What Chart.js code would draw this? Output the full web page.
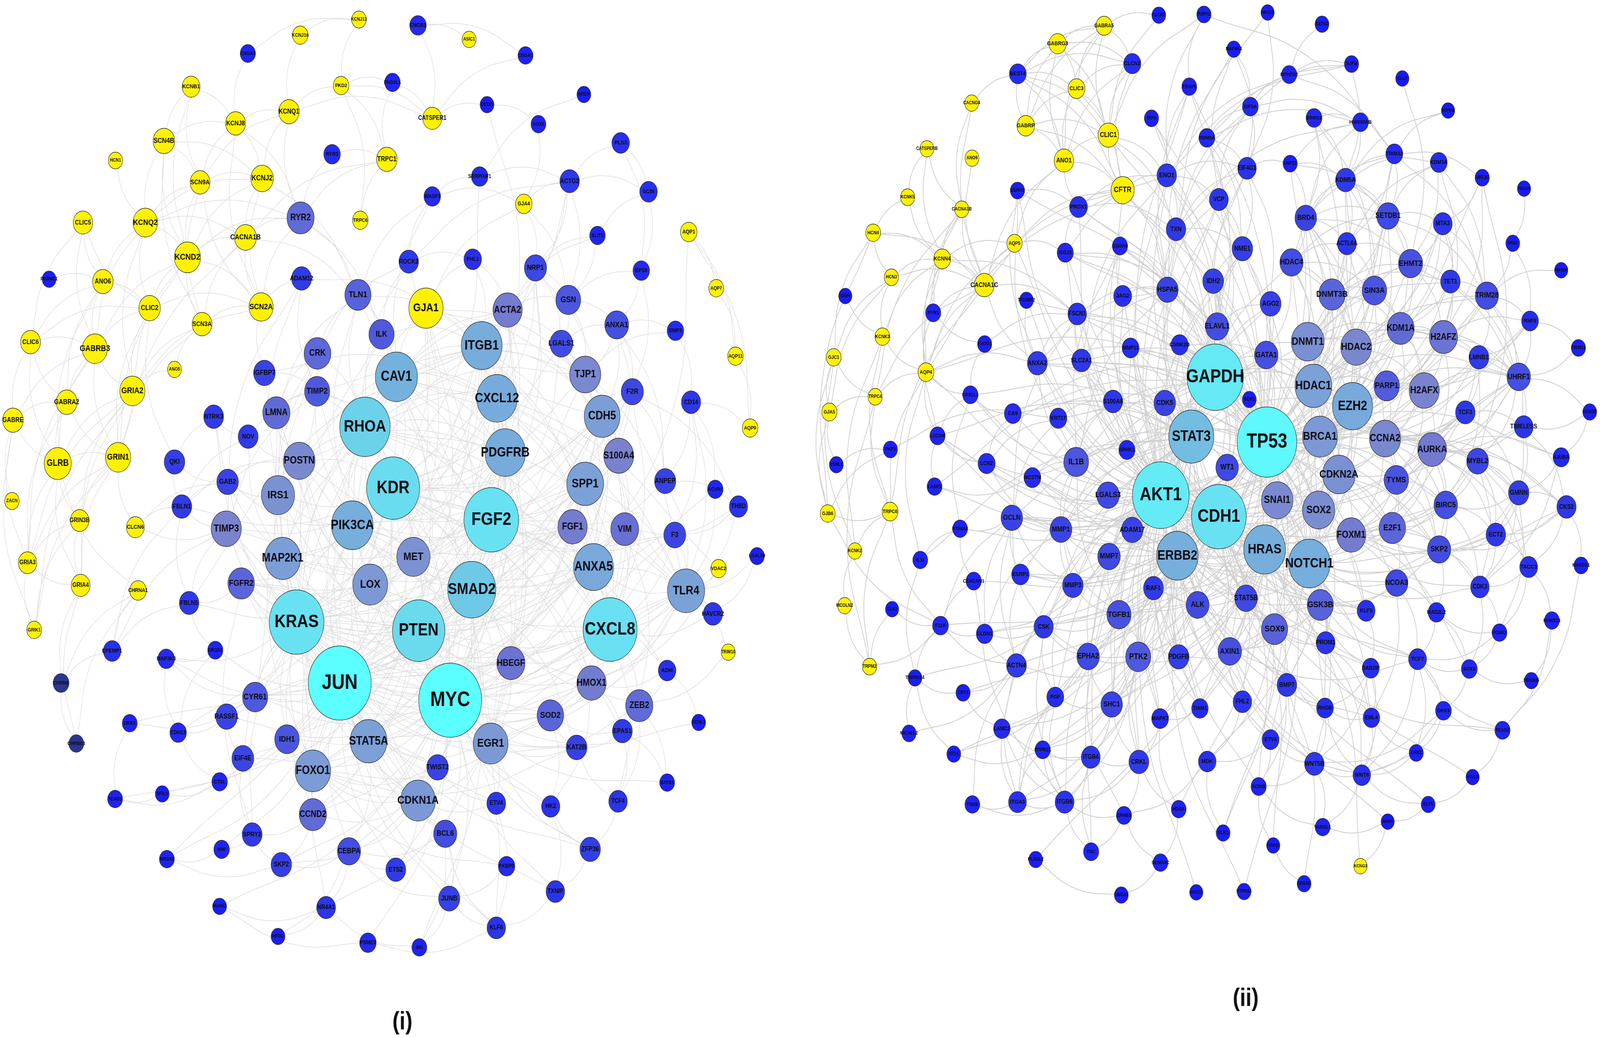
<!DOCTYPE html>
<html>
<head>
<meta charset="utf-8">
<title>networks</title>
<style>
  html, body { margin: 0; padding: 0; background: #fff; overflow: hidden; }
  /* the drawing is 4823 wide, the window may be capped narrower: always fill it */
  canvas { display: block; width: 100vw !important; height: 100vh !important; }
</style>
<script src="https://cdn.jsdelivr.net/npm/chart.js@4/dist/chart.umd.min.js"></script>
</head>
<body>
<canvas id="net" width="4823" height="2658"></canvas>
<script>
// rows are gene, x, y, node size
const channelsLeft = [
["KCNJ13",1082,50,44],["KCNJ16",905,90,47],["KCNB1",576,222,54],["PKD2",1028,219,47],["KCNQ1",871,286,62],
["KCNJ8",710,316,60],["SCN4B",494,361,65],["HCN1",348,411,43],["TRPC1",1166,408,62],["SCN9A",603,467,60],
["KCNJ2",790,457,68],["CLIC5",250,570,59],["KCNQ2",438,570,74],["TRPC6",1086,564,47],["KCND2",565,659,79],
["CACNA1B",740,608,66],["ANO6",310,721,62],["CLIC2",451,789,65],["SCN2A",787,786,73],["SCN3A",609,830,60],
["CLIC6",92,876,60],["GABRB3",286,893,76],["ANO5",526,946,42],["GRIA2",399,1001,76],["GABRA2",201,1030,63],
["GABRE",39,1076,62],["GLRB",174,1187,82],["GRIN1",356,1171,76],["ZACN",36,1283,44],["GRIN3B",240,1333,56],
["CLCN6",408,1350,54],["GRIA3",83,1441,56],["GRIA4",243,1499,57],["CHRNA1",416,1512,50],["GRIK1",103,1613,45],
["ASIC1",1414,101,42],["CATSPER1",1303,303,57],["GJA4",1579,522,50],["AQP1",2076,594,50],["AQP7",2159,738,45],
["GJA1",1284,789,103],["AQP11",2217,912,47],["AQP9",2261,1096,47],["VDAC2",2166,1456,47],["TRIM10",2195,1670,42]
];
const darkLeft = [["CHRNE",184,1749,48],["CHRNB3",230,1904,45]];
const othersLeft = [
["CNGA3",747,137,46],["PKD2L1",1183,211,47],["RYR3",1001,395,50],["RYR2",906,558,82],["PGRMC1",148,715,42],
["ADAM12",909,713,60],["TLN1",1079,755,79],["ILK",1150,856,76],["CRK",957,905,81],["CAV1",1195,965,127],
["IGFBP7",797,955,65],["TIMP2",956,1002,76],["LMNA",833,1057,82],["RHOA",1100,1093,152],["NTRK3",644,1067,60],
["NOV",748,1118,60],["POSTN",902,1180,95],["KDR",1185,1250,160],["QKI",526,1183,62],["GAB2",686,1234,65],
["IRS1",838,1268,100],["FBLN1",548,1297,60],["PIK3CA",1062,1345,125],["MAP2K1",852,1430,108],["TIMP3",682,1354,91],
["FGFR2",727,1494,80],["LOX",1116,1497,105],["KRAS",894,1593,165],["JUN",1024,1749,190],["CYR61",769,1785,76],
["RASSF1",683,1835,65],["EIF2S1",649,1665,46],["FBLN5",570,1544,59],["EFEMP1",338,1667,53],["MAP3K3",501,1687,50],
["DKK3",391,1852,45],["CDH13",537,1876,50],["IDH1",865,1893,74],["EIF4E",732,1942,66],["STAT5A",1111,1898,111],
["FOXO1",943,1974,107],["CTSL",662,2002,47],["NFIL3",489,2033,42],["TEAD1",347,2046,45],["CCND2",943,2086,82],
["SPRY2",760,2137,60],["NMI",668,2175,47],["CEBPA",1052,2180,70],["NR1H3",503,2200,45],["SKP2",848,2214,62],
["ETS2",1193,2227,60],["NUAK1",662,2321,42],["NR4A1",983,2324,57],["HPGD",838,2398,42],["PSME3",1109,2414,50],
["CNGB1",1260,65,50],["CNGA1",1584,142,45],["CD151",1468,268,42],["NREP",1760,242,42],["SOX5",1623,318,45],
["PLS3",1871,366,53],["SERPINF1",1446,452,50],["ACTG2",1717,464,59],["SCIN",1955,491,53],["WASF3",1303,503,50],
["SLIT3",1801,603,47],["ROCK2",1232,670,59],["FHL1",1425,664,53],["NRP1",1614,686,67],["EPS8",1933,693,50],
["GSN",1713,768,75],["ACTA2",1530,794,88],["ANXA1",1859,832,72],["EMP3",2036,847,50],["LGALS1",1692,880,69],
["ITGB1",1452,885,123],["TJP1",1764,959,94],["F2R",1906,1003,67],["CD14",2083,1030,58],["CXCL12",1498,1020,122],
["CDH5",1815,1066,108],["PDGFRB",1523,1159,122],["S100A4",1865,1167,90],["ANPEP",2005,1232,64],["SPP1",1764,1239,111],
["ACVR1",2156,1253,47],["THBD",2226,1297,55],["FGF2",1481,1331,165],["MET",1246,1426,100],["FGF1",1726,1349,88],
["VIM",1883,1355,84],["F3",2034,1370,66],["ANXA5",1789,1452,120],["LGALS9",2282,1424,44],["SMAD2",1422,1510,145],
["TLR4",2068,1513,112],["HAVCR2",2149,1572,58],["PTEN",1262,1615,158],["CXCL8",1839,1612,163],["HBEGF",1540,1698,85],
["ADM",2011,1717,53],["HMOX1",1783,1749,88],["MYC",1357,1793,190],["ZEB2",1927,1807,82],["SOD2",1659,1832,80],
["UCHL3",2106,1850,42],["EPAS1",1876,1872,60],["EGR1",1479,1904,105],["KAT2B",1738,1914,63],["TWIST2",1319,1965,65],
["SATB1",2011,2004,45],["CDKN1A",1260,2050,105],["ETV4",1496,2057,57],["HK2",1660,2065,55],["TCF4",1863,2052,56],
["BCL6",1342,2135,70],["ZFP36",1779,2175,62],["FKBP5",1527,2218,50],["TXNIP",1674,2283,56],["JUNB",1354,2301,64],
["KLF6",1496,2376,56],["SKI",1264,2426,45]
];
const channelsRight = [
["GABRA5",3328,66,49],["GABRG3",3188,112,52],["CLIC3",3245,227,51],["CACNG4",2929,264,42],["GABRP",3092,322,53],
["CLIC1",3341,346,62],["CATSPERB",2794,381,42],["ANO9",2930,405,42],["ANO1",3207,411,59],["CFTR",3384,487,70],
["KCNK5",2736,505,43],["CACNA1B",2899,536,43],["HCN4",2632,596,45],["AQP5",3058,623,46],["KCNN4",2840,663,51],
["HCN3",2687,710,43],["CACNA1C",2967,730,60],["KCNK3",2660,862,45],["GJC1",2513,915,45],["AQP4",2791,953,48],
["TRPC4",2638,1016,43],["GJA5",2500,1055,46],["GJB6",2495,1315,45],["TRPC6",2683,1310,48],["KCNK2",2577,1411,42],
["MCOLN2",2546,1551,42],["TRPM2",2621,1707,43],["KCNG3",4101,2218,40]
];
const othersRight = [
["CLCN7",3493,39,42],["P2RY2",3629,37,43],["CLCN2",3413,163,52],["BEST4",3068,189,51],["TRAP1",3585,222,45],
["IRF6",3471,303,43],["ENO1",3517,449,59],["S100A2",3067,488,43],["PRDX1",3251,530,54],["TXN",3545,587,59],
["S100A9",3376,630,46],["ISG15",3211,647,49],["IGSF6",2548,758,40],["HSPA5",3519,742,65],["TP53BP2",3094,769,42],
["JAG2",3384,758,54],["RYR1",2813,801,46],["FSCN1",3247,804,56],["FHOD1",2968,881,43],["MMP11",3408,891,51],
["CSNK2B",3556,883,52],["ANXA2",3127,930,60],["SLC2A1",3260,923,58],["CX3CL1",2925,1011,46],["S100A8",3355,1028,58],
["CDK5",3511,1032,65],["CA9",3053,1059,51],["KRT17",3190,1071,52],["L1CAM",2826,1116,46],["STAT3",3591,1118,136],
["PKP3",2684,1151,43],["SPHK1",3397,1152,49],["LCN2",2974,1187,52],["IL1B",3244,1183,75],["VSNL1",2521,1190,42],
["NCSTN",3112,1223,51],["LASP1",2817,1246,45],["AKT1",3499,1268,171],["LGALS3",3340,1268,68],["GAPDH",3663,966,170],
["ABCC2",3821,32,40],["EEF1D",3985,62,42],["MAP4K4",3719,126,42],["TUFM",4074,164,43],["MTHFD2",3886,191,46],
["ELL3",4227,201,40],["EIF5A",3769,273,48],["REPIN1",4365,283,40],["BRMS1",3961,302,48],["HNRNPAB",4101,313,48],
["RBM8A",3638,353,48],["TRIM33",4203,394,51],["KDM3A",4337,416,51],["USP22",3889,419,43],["EIF4G1",3759,431,56],
["UBE3C",4468,455,43],["PEG10",4594,483,40],["KDM5A",4056,461,60],["VCP",3674,511,57],["BRD4",3936,558,65],
["SETDB1",4184,553,68],["MTA3",4349,573,57],["ACTL6A",4060,624,57],["MSI2",4560,623,42],["NME1",3745,637,62],
["HDAC4",3893,672,70],["EHMT2",4252,675,73],["HMGB3",4706,692,40],["IDH2",3657,720,63],["TET1",4372,721,59],
["DNMT3B",4015,754,80],["SIN3A",4143,744,74],["TRIM28",4482,757,70],["AGO2",3830,778,63],["RNF8",4612,822,51],
["ELAVL1",3669,836,70],["KDM1A",4222,841,82],["H2AFZ",4351,863,85],["DNMT1",3942,875,99],["HDAC2",4088,889,93],
["GATA1",3817,909,71],["TRIM11",4758,891,43],["LMNB1",4458,915,60],["UHRF1",4578,965,71],["HDAC1",3959,988,111],
["PARP1",4180,988,77],["H2AFX",4293,1000,91],["BOP1",3766,1023,42],["EZH2",4077,1040,121],["TCF3",4417,1056,59],
["HOXD9",4792,1055,42],["TIMELESS",4593,1093,57],["TP53",3819,1132,180],["BRCA1",3979,1118,105],["CCNA2",4175,1123,94],
["AURKA",4317,1151,87],["AJUBA",4706,1171,49],["MYBL2",4454,1181,66],["WT1",3699,1197,68],["CDKN2A",4036,1215,99],
["TYMS",4209,1229,74],["GMNN",4578,1262,62],["SNAI1",3850,1281,95],["SOX2",3975,1306,97],["BIRC5",4358,1293,71],
["CKS2",4722,1298,58],["OCLN",3050,1326,65],["PTP4A3",2894,1354,45],["MMP1",3198,1356,66],["ADAM17",3413,1357,65],
["MMP7",3343,1425,68],["ERBB2",3549,1423,125],["IL11",2774,1434,45],["ESRP1",3076,1471,53],["CEACAM1",2935,1488,46],
["MMP3",3234,1499,62],["RAF1",3477,1506,60],["CLK2",2689,1560,40],["ALK",3610,1549,69],["TGFB1",3373,1574,73],
["F11R",2835,1602,48],["CSK",3146,1605,58],["CLDN1",2968,1623,50],["EPHA2",3280,1681,68],["PTK2",3431,1682,76],
["PDGFB",3553,1682,62],["ACTN4",3064,1704,60],["TMPRSS4",2758,1736,42],["CBY1",2903,1774,43],["PGF",3181,1785,51],
["SHC1",3351,1804,65],["TIAM1",3617,1814,50],["MAPK7",3497,1840,51],["LAMC2",3020,1866,50],["MICALL2",2740,1878,43],
["PTPRZ1",3143,1920,46],["ST14",2875,1931,42],["ITGB4",3288,1939,57],["CRKL",3433,1951,60],["MDK",3639,1950,53],
["TNXB",2931,2060,45],["ITGA3",3067,2054,54],["ITGB6",3209,2054,57],["EPHB3",3388,2088,46],["HDGF",3553,2072,45],
["TNC",3289,2181,46],["PLAGL2",3122,2201,42],["SEMA4C",3498,2209,45],["CNGA3",3380,2292,42],["MACC1",3606,2285,40],
["CDH1",3674,1323,165],["HRAS",3812,1407,126],["NOTCH1",3947,1443,125],["FOXM1",4073,1370,88],["E2F1",4197,1352,80],
["SKP2",4338,1407,70],["ECT2",4509,1369,59],["TACC3",4608,1452,54],["MAGED1",4766,1448,43],["CDK3",4461,1503,56],
["NCOA3",4210,1493,68],["STAT5B",3756,1532,68],["GSK3B",3980,1549,79],["KLF5",4118,1564,54],["MAD2L2",4330,1568,50],
["HOXB13",4678,1589,45],["SOX9",3842,1611,79],["FOXK2",4520,1620,45],["PROM1",3996,1646,57],["AXIN1",3707,1668,71],
["TCF7",4273,1688,54],["DAB2IP",4132,1711,51],["SOX3",4429,1713,48],["FBXO45",4616,1743,42],["BMP7",3879,1754,59],
["FHL2",3745,1797,56],["RHOB",3994,1813,51],["DKK3",4351,1820,48],["EML4",4134,1838,50],["TEAD2",4529,1870,46],
["ETV4",3830,1894,51],["LHX2",4269,1928,43],["WNT5B",3962,1956,59],["WNT6",4105,1985,53],["VGLL4",4439,1990,40],
["SCRIB",3794,2014,46],["ELF5",4305,2060,42],["NREP",4183,2104,40],["VANGL1",3987,2118,45],["ELK1",3687,2133,42],
["FOXQ1",3838,2165,40],["GREM1",3931,2263,42],["PTPN14",3750,2283,42]
];
// first word of a line is linked to all the others on the line
const edgesLeft = [
"KCNJ13 CNGA3 KCNJ16 PKD2","KCNJ16 KCNQ1","CNGA3 KCNJ8","KCNB1 KCNJ8 SCN9A SCN4B KCND2","KCNQ1 KCNJ8 PKD2 KCNJ2 RYR2 SCN9A",
"KCNJ8 SCN4B SCN9A KCNJ2 RYR2 SCN2A","SCN4B SCN9A KCNQ2 KCND2 KCNJ2 SCN3A","HCN1 KCNQ2","TRPC1 PKD2 RYR3 PKD2L1 TRPC6 CACNA1B RYR2",
"PKD2 PKD2L1 TRPC6 CATSPER1","SCN9A KCNQ2 KCND2 KCNJ2 SCN2A SCN3A","KCNJ2 KCND2 KCNQ2 CACNA1B TLN1 SCN2A","RYR2 RYR3 CACNA1B KCND2 SCN2A TLN1 ILK",
"KCNQ2 KCND2 CLIC2 ANO6 GRIA2 GABRB3 CACNA1B RYR2","KCND2 CACNA1B SCN2A SCN3A CLIC2 GABRB3 GRIN1 GRIA2","CACNA1B SCN2A SCN3A GRIN1 TLN1",
"CLIC5 ANO6 GABRB3 CLIC6 CLIC2","ANO6 PGRMC1 CLIC2 GABRB3 GABRA2 CLIC6 GLRB","CLIC2 GABRB3 SCN2A GRIA2 GRIN1 CLIC6 QKI","SCN2A SCN3A IGFBP7 GRIA2 ADAM12",
"SCN3A GRIA2 GRIN1 ANO5","CLIC6 GABRB3 GABRA2 GABRE GLRB","GABRB3 GABRA2 GABRE GLRB GRIN1 GRIA2 GRIA3","ANO5 GRIA2","GRIA2 GRIN1 GLRB GRIN3B GRIA3 GRIA4 GRIK1",
"GABRA2 GABRE GLRB GRIN1 GRIA3","GABRE GLRB ZACN GRIA3 GRIK1","GLRB GRIN1 GRIN3B GRIA3 GRIA4 CHRNA1","GRIN1 GRIN3B GRIA3 GRIA4 GRIK1 CLCN6","GRIN3B GRIA3 GRIA4 GRIK1",
"GRIA3 GRIA4 GRIK1","GRIA4 CHRNE CHRNB3","CHRNA1 CHRNE CHRNB3 EFEMP1","CHRNE CHRNB3 EFEMP1","CLCN6 FBLN1 GAB2 TIMP3",
"CNGB1 ASIC1 CATSPER1 CNGA1","CATSPER1 CD151 CNGA1 PKD2L1 KCNQ1","CD151 SOX5 CXCL12","NREP SERPINF1","SOX5 GJA4","SERPINF1 WASF3 ACTG2 KDR","PLS3 ACTG2 SCIN EPS8",
"SCIN ACTG2 SLIT3 EPS8","ACTG2 GJA4 GSN NRP1 ACTA2 ITGB1 ROCK2","WASF3 GJA4 ROCK2 CAV1 TLN1","GJA4 GJA1 NRP1 GSN","SLIT3 ACTA2 NRP1 GSN","AQP1 AQP7 AQP11 AQP9 ANXA5",
"AQP7 AQP11","AQP11 AQP9","AQP9 CD14","ROCK2 RHOA FHL1 ILK MET CRK","FHL1 ITGB1 ACTA2 GJA1","EPS8 GSN ANXA1 F2R","NRP1 KDR FGF2 CXCL12 GSN LGALS1 PDGFRB CDH5",
"GSN ANXA1 TJP1 ACTA2 LGALS1","ANXA1 EMP3 TJP1 F2R LGALS1 ANPEP CDH5 S100A4","EMP3 CD14 TJP1","CD14 TLR4 ANPEP F3 ACVR1","ANPEP THBD TLR4 FGF1 F2R","THBD F3 VIM F2R TLR4","ACVR1 TLR4 SMAD2",
"LGALS9 HAVCR2 TLR4","VDAC2 TLR4 HMOX1 CAV1","TRIM10 ZEB2 TLR4","HAVCR2 TLR4 CXCL8 ANXA5","UCHL3 MYC ADM","ADM HMOX1 ZEB2 FGF2 KDR","SATB1 EPAS1 ZEB2 MYC",
"ZEB2 EPAS1 TCF4 SMAD2 CXCL8 VIM EGR1","EPAS1 KDR HMOX1 SOD2 TCF4 KAT2B","TCF4 KAT2B ZFP36 CXCL8","ZFP36 MYC JUN TXNIP EGR1 HK2","TXNIP KLF6 HK2 MYC JUN","KLF6 JUN MYC ETV4 BCL6 JUNB","FKBP5 JUNB FOXO1",
"JUNB JUN BCL6 SKI CEBPA MYC","SKI BCL6 NR4A1 SMAD2","HK2 MYC SOD2 HMOX1 PTEN","ETV4 MET EGR1 TWIST2 CDKN1A KRAS","BCL6 CDKN1A MYC CEBPA JUN STAT5A","ETS2 JUN MYC CEBPA CDKN1A","PSME3 MYC KLF6 NUAK1","NUAK1 NR4A1 MYC","NR4A1 JUN EGR1 CEBPA","HPGD NR4A1 CEBPA",
"CEBPA JUN MYC CDKN1A SKP2 STAT5A","SKP2 MYC NR1H3 CDKN1A CCND2 SPRY2","NR1H3 NMI KDR JUN","NMI SPRY2 JUN","SPRY2 KRAS CCND2 FGFR2 EIF4E","TEAD1 NFIL3 JUN CTSL","NFIL3 CTSL JUN","CTSL EIF4E CDH13 PTEN","EIF4E MYC KRAS RASSF1 JUN",
"CDH13 RASSF1 MAP3K3 KDR","RASSF1 KRAS MYC CYR61","DKK3 CYR61 TEAD1 FGF2","MAP3K3 EIF2S1 CYR61 KRAS JUN","EIF2S1 JUN CDH13 FBLN5","EFEMP1 FBLN5 TIMP3 FBLN1","FBLN5 FBLN1 TIMP3 FGFR2 LOX ITGB1","FBLN1 QKI GAB2 TIMP3 KDR POSTN",
"QKI NTRK3 GAB2","NTRK3 KRAS NOV MAP2K1","NOV POSTN FBLN1 TIMP2 MAP2K1","GAB2 KRAS IRS1 POSTN PIK3CA","IGFBP7 TIMP2 POSTN CXCL12","ADAM12 TIMP2 TIMP3 IRS1 ITGB1","TLN1 ILK CRK ITGB1 CAV1 RHOA KDR PIK3CA","ILK ITGB1 RHOA CAV1 PTEN KRAS","CRK KRAS RHOA IRS1 MAP2K1 LMNA PIK3CA",
"LMNA TIMP2 TLN1 CDKN1A EGR1 PTEN JUN","TIMP2 TIMP3 KDR MET CXCL12 FGF2 RHOA JUN","POSTN KDR PTEN ITGB1 FGF2 SMAD2 LOX PDGFRB","IRS1 KRAS PIK3CA KDR PTEN MAP2K1 RHOA JUN","TIMP3 KDR PTEN FGF2 KRAS JUN MYC",
"MAP2K1 KRAS PIK3CA RHOA KDR JUN MYC PTEN MET FGF2","FGFR2 KRAS FGF2 PIK3CA FGF1 PTEN MET JUN","LOX KDR PTEN SMAD2 JUN MYC PDGFRB",
"CAV1 RHOA KDR ITGB1 FGF2 PTEN KRAS PIK3CA SMAD2 MYC JUN CXCL12 TJP1 PDGFRB CXCL8 TLR4","GJA1 CAV1 TJP1 ITGB1 PTEN JUN KDR CDH5 MYC RHOA",
"ACTA2 SMAD2 ITGB1 CAV1 PDGFRB RHOA MYC TJP1 CXCL12 KRAS",
"ITGB1 RHOA KDR PIK3CA KRAS FGF2 PTEN CXCL12 PDGFRB SMAD2 JUN MYC MET ANXA5 CDH5 SPP1 TJP1 CXCL8 EGR1",
"CXCL12 KDR FGF2 PIK3CA RHOA KRAS JUN MYC PTEN PDGFRB CXCL8 SPP1 TLR4 ANXA5 SMAD2",
"PDGFRB KDR FGF2 PIK3CA KRAS JUN MYC PTEN SMAD2 RHOA HBEGF EGR1 MET",
"TJP1 CDH5 KDR RHOA JUN CXCL8 ANXA5 SPP1","CDH5 KDR RHOA FGF2 CXCL8 PIK3CA PTEN KRAS JUN MYC","LGALS1 KDR FGF2 TLR4 ANXA5","F2R CXCL8 FGF2 JUN MYC KDR","S100A4 MYC JUN CXCL8 FGF2 CDH5 SPP1 TJP1 VIM",
"SPP1 KDR FGF2 JUN MYC KRAS PTEN CXCL8 ANXA5 PIK3CA TLR4 SMAD2","FGF1 FGF2 KDR KRAS PIK3CA JUN MYC CXCL8 MAP2K1","VIM JUN MYC KRAS CXCL8 SMAD2 ANXA5 PTEN","F3 FGF2 CXCL8 JUN MYC KDR TLR4",
"ANXA5 KRAS JUN MYC PTEN CXCL8 FGF2 KDR PIK3CA SMAD2 RHOA TLR4","TLR4 CXCL8 JUN MYC KRAS RHOA FGF2 PTEN SOD2 HMOX1 EGR1",
"HMOX1 JUN MYC CXCL8 KDR FGF2 SOD2 PTEN SMAD2","HBEGF KRAS JUN MYC FGF2 EGR1 KDR CXCL8 PTEN","SOD2 MYC JUN PTEN CXCL8 KRAS FOXO1 KAT2B","KAT2B MYC JUN SMAD2 FOXO1 EGR1",
"EGR1 JUN MYC PTEN FGF2 KRAS CXCL8 SMAD2 CDKN1A KDR STAT5A","TWIST2 JUN MYC SMAD2 CDKN1A FOXO1 KRAS","CDKN1A JUN MYC KRAS PTEN FOXO1 STAT5A SMAD2 CCND2 IDH1 PIK3CA RHOA",
"CCND2 JUN MYC KRAS PTEN FOXO1 PIK3CA STAT5A","FOXO1 PTEN JUN MYC KRAS KDR PIK3CA SMAD2 STAT5A RHOA IRS1","IDH1 MYC KRAS JUN PTEN FOXO1","CYR61 JUN KRAS MYC FGF2 KDR PTEN SMAD2 CXCL8 RHOA",
"STAT5A JUN MYC KRAS PTEN KDR FGF2 PIK3CA CXCL8 SMAD2 MAP2K1","MET KRAS PIK3CA KDR PTEN MYC JUN FGF2 SMAD2 RHOA","SMAD2 JUN MYC PTEN KDR KRAS RHOA FGF2 PIK3CA CXCL8",
"PIK3CA KRAS PTEN KDR RHOA JUN MYC FGF2 CXCL8","RHOA KRAS KDR JUN MYC PTEN FGF2 CXCL8","KDR KRAS JUN MYC PTEN FGF2 CXCL8","FGF2 KRAS JUN MYC PTEN CXCL8","PTEN KRAS JUN MYC CXCL8","JUN KRAS MYC CXCL8","MYC KRAS CXCL8","KRAS CXCL8"
];
const edgesRight = [
"CLCN7 CLIC1 GABRA5","P2RY2 TRAP1 CLIC1 ENO1 TRIM33","ABCC2 TXN EIF4G1","EEF1D MTHFD2","MAP4K4 EIF4G1 EIF5A VCP HSPA5","TUFM ENO1 EIF5A MTHFD2 RBM8A KDM5A","MTHFD2 EIF5A TRIM33 ENO1","ELL3 EHMT2","REPIN1 TRIM33 KDM5A","EIF5A EIF4G1 RBM8A TXN HNRNPAB HSPA5 VCP",
"BRMS1 HNRNPAB KDM5A BRD4 HDAC1 SIN3A","HNRNPAB KDM5A RBM8A BRD4 USP22 TXN","RBM8A EIF4G1 NME1 ELAVL1","TRIM33 KDM5A SETDB1 ACTL6A TRIM28 TP53 BRD4","KDM3A SETDB1 EHMT2 KDM5A ACTL6A H2AFZ TRIM28","USP22 EIF4G1 SETDB1 KDM5A TP53 BRD4","EIF4G1 VCP NME1 AGO2 GAPDH TXN ELAVL1","UBE3C TRIM33 MTA3 H2AFZ MYBL2 TP53","PEG10 MSI2","KDM5A BRD4 SETDB1 HDAC1 EHMT2 DNMT1 ACTL6A HDAC4 SIN3A",
"VCP HSPA5 GAPDH ENO1 NME1 TP53 AKT1 STAT3","BRD4 HDAC4 ACTL6A SETDB1 EHMT2 DNMT3B HDAC2 TP53 EZH2 BRCA1 HDAC1","SETDB1 EHMT2 TRIM28 HDAC4 DNMT3B HDAC1 DNMT1 EZH2 MTA3","MTA3 EHMT2 TRIM28 HDAC1 HDAC2 H2AFZ TET1 KDM1A","ACTL6A HDAC4 EHMT2 HDAC1 TP53 SIN3A EZH2 DNMT3B","MSI2 TRIM28 RNF8","NME1 GAPDH IDH2 TP53 AKT1 ELAVL1 GATA1","HDAC4 DNMT1 HDAC1 GATA1 HDAC2 TP53 STAT3 SIN3A DNMT3B","EHMT2 TET1 DNMT1 KDM1A H2AFZ HDAC1 EZH2 SIN3A DNMT3B UHRF1","HMGB3 TRIM28","IDH2 GAPDH TP53 AKT1 ELAVL1 CDH1",
"TET1 UHRF1 H2AFZ DNMT1 DNMT3B EZH2 TRIM28 KDM1A","DNMT3B DNMT1 HDAC1 EZH2 HDAC2 TP53 KDM1A SIN3A","SIN3A HDAC1 HDAC2 KDM1A EZH2 TP53 DNMT1 H2AFX","TRIM28 H2AFZ KDM1A UHRF1 TP53 EZH2 RNF8 LMNB1 HDAC1 TIMELESS","AGO2 TP53 GAPDH ELAVL1 GATA1 AKT1 CDH1","RNF8 UHRF1 H2AFX TRIM11 BRCA1 LMNB1 H2AFZ","ELAVL1 GAPDH TP53 STAT3 AKT1 CDH1 NOTCH1","KDM1A DNMT1 HDAC1 HDAC2 EZH2 TP53 H2AFZ H2AFX CCNA2 UHRF1","H2AFZ H2AFX UHRF1 LMNB1 TP53 HDAC1 HDAC2 EZH2 BRCA1 AURKA PARP1",
"DNMT1 HDAC1 HDAC2 EZH2 TP53 BRCA1 UHRF1 AKT1 CDKN2A GAPDH SOX2","HDAC2 HDAC1 EZH2 TP53 BRCA1 AKT1 CDH1 CCNA2 H2AFX PARP1 NOTCH1","GATA1 TP53 GAPDH STAT3 AKT1 CDH1 SOX2 NOTCH1 HDAC1","TRIM11 UHRF1","LMNB1 UHRF1 CCNA2 AURKA TP53 H2AFX TCF3 BIRC5","UHRF1 H2AFX EZH2 TP53 BRCA1 CCNA2 TIMELESS HOXD9 TYMS MYBL2 HDAC1 AURKA","HDAC1 EZH2 TP53 BRCA1 AKT1 CDH1 STAT3 NOTCH1 CDKN2A SNAI1 SOX2 GAPDH HRAS",
"PARP1 TP53 BRCA1 H2AFX AKT1 GAPDH CCNA2 HDAC1 EZH2","H2AFX TP53 BRCA1 CCNA2 AURKA EZH2 TYMS PARP1 CDKN2A","BOP1 TP53 GAPDH","EZH2 TP53 BRCA1 CDKN2A AKT1 CDH1 SNAI1 NOTCH1 STAT3 SOX2 GAPDH CCNA2 HRAS","TCF3 CDH1 SOX2 SNAI1 CCNA2 NOTCH1 TIMELESS GMNN","HOXD9 AJUBA TIMELESS","TIMELESS AURKA CCNA2 CKS2 GMNN ECT2","BRCA1 TP53 CCNA2 AURKA CDKN2A AKT1 NOTCH1 HRAS","CCNA2 TP53 AURKA CDKN2A TYMS BIRC5 FOXM1 E2F1 SKP2 GMNN MYBL2 CKS2",
"AURKA TP53 BIRC5 FOXM1 E2F1 TYMS CDKN2A SKP2 ECT2 CKS2 TACC3 HRAS GMNN","AJUBA AURKA GMNN TP53 CDK3","MYBL2 TP53 FOXM1 BIRC5 E2F1 CDK3 TACC3 ECT2 GMNN","WT1 TP53 GAPDH AKT1 CDH1 STAT3 NOTCH1 SNAI1","CDKN2A TP53 AKT1 HRAS NOTCH1 E2F1 SKP2 FOXM1 CDH1","TYMS TP53 E2F1 FOXM1 BIRC5 SKP2","GMNN CKS2 SKP2 ECT2 BIRC5 CDK3 FOXK2","SNAI1 CDH1 TP53 GSK3B AKT1 NOTCH1 STAT3 SOX2 SOX9 HRAS","SOX2 TP53 AKT1 CDH1 NOTCH1 STAT3 SOX9 GAPDH",
"BIRC5 TP53 FOXM1 E2F1 SKP2 CDK3 ECT2 AKT1","CKS2 ECT2 SKP2 TACC3 FOXM1 MAGED1","FOXM1 TP53 E2F1 SKP2 ECT2 NOTCH1 AKT1 CDK3","E2F1 TP53 AKT1 SKP2 NOTCH1 HRAS CDK3 NCOA3","SKP2 TP53 AKT1 ECT2 NOTCH1 GSK3B CDK3 MAD2L2","ECT2 TACC3 HRAS CDK3","TACC3 CDK3 HOXB13 FOXK2","MAGED1 TEAD2","CDK3 NOTCH1 FOXK2 SOX3","NCOA3 TP53 AKT1 NOTCH1 TCF7 GSK3B EML4 MAD2L2","GSK3B AKT1 TP53 NOTCH1 CDH1 SOX9 AXIN1 HRAS TCF7 DAB2IP KLF5 PROM1 STAT3 ERBB2",
"KLF5 TP53 NOTCH1 CDH1 AKT1 SOX2 DAB2IP","MAD2L2 TP53 TCF7 FOXK2 NCOA3 SOX3","HOXB13 TEAD2 FBXO45","FOXK2 SOX3 TCF7","PROM1 NOTCH1 CDH1 AKT1 SOX2 WNT6 EML4 SOX9","TCF7 NOTCH1 CDH1 WNT6 DKK3 SOX3 LHX2 AXIN1 TEAD2","DAB2IP EML4 WNT6 AKT1 HRAS WNT5B RHOB","SOX3 SOX2 DKK3 FBXO45","BMP7 NOTCH1 CDH1 WNT5B RHOB SOX9 AKT1 SOX2 SCRIB ETV4","FHL2 AKT1 ERBB2 CDH1 STAT3 ETV4 MDK","RHOB AKT1 HRAS TP53 WNT5B EML4 WNT6 CDH1","DKK3 WNT6 LHX2 TEAD2 WNT5B",
"EML4 ALK WNT6 LHX2 NOTCH1","TEAD2 VGLL4 SOX9","ETV4 ERBB2 HRAS MDK SCRIB WNT5B","LHX2 WNT6 WNT5B","WNT5B WNT6 VANGL1 AXIN1 NOTCH1 SCRIB","WNT6 ELF5 VANGL1 AXIN1","VGLL4 ELF5 HRAS","SCRIB VANGL1 FOXQ1 CDH1 ERBB2","ELF5 NREP CDH1","NREP VANGL1 AKT1 KCNG3","ELK1 MDK HRAS TP53","FOXQ1 GREM1 CDH1","KCNG3 HRAS","GREM1 BMP7 FOXQ1","PTPN14 ERBB2 TP53","MDK NOTCH1 AKT1 SOX9 EPHB3","MACC1 AKT1",
"CNGA3 PLAGL2 SEMA4C","PLAGL2 TP53","SEMA4C HDGF EPHB3","TNC ITGB4 ITGB6 EPHB3 AKT1","HDGF MAPK7 TP53 CRKL","EPHB3 EPHA2 ITGB6 CRKL","TNXB ITGA3 ITGB6 ACTN4","ITGA3 ITGB6 ITGB4 PTK2 ACTN4 LAMC2 PGF EPHA2 PTPRZ1","ITGB6 ITGB4 PTK2 LAMC2 CSK TGFB1 PGF PTPRZ1 CRKL","CRKL PTK2 SHC1 ERBB2 HRAS AKT1 ITGB4 EPHB3 MAPK7","ITGB4 PTK2 SHC1 ERBB2 AKT1 LAMC2 PTPRZ1","ST14 ERBB2 EPHA2 PTPRZ1","PTPRZ1 PTK2 PGF SHC1 ERBB2","MICALL2 ACTN4 TMPRSS4","LAMC2 ITGB4 EPHA2 PTK2 MMP3 CBY1",
"MAPK7 AKT1 TP53 HRAS RAF1 ERBB2","TIAM1 HRAS AKT1 CDH1 ERBB2 MAPK7 STAT3 RAF1","SHC1 ERBB2 HRAS AKT1 PTK2 RAF1 EPHA2 STAT3 CDH1","PGF AKT1 EPHA2 MMP3 SHC1 TGFB1 CSK","CBY1 ACTN4 TMPRSS4 CDH1","TMPRSS4 F11R MMP7 ST14","ACTN4 CSK PTK2 CDH1 ESRP1 OCLN AKT1 F11R CLDN1","PDGFB ERBB2 AKT1 STAT3 PTK2 RAF1 TGFB1 SOX9 SNAI1 HRAS","PTK2 AKT1 ERBB2 CDH1 TP53 RAF1 TGFB1 STAT3 CSK SHC1 EPHA2 ALK HRAS","EPHA2 ERBB2 AKT1 CDH1 TGFB1 CSK MMP7 STAT3 TP53",
"CLDN1 OCLN CDH1 F11R CSK MMP1 MMP7","CSK AKT1 ERBB2 OCLN CDH1 STAT3 TGFB1","F11R OCLN CLK2 CEACAM1 CDH1","TGFB1 AKT1 CDH1 TP53 STAT3 SNAI1 ERBB2 IL1B MMP1 MMP3 HRAS SOX2 MMP7","ALK AKT1 ERBB2 STAT3 TP53 HRAS SHC1","CLK2 TRPM2","RAF1 AKT1 HRAS ERBB2 TP53 STAT3 CDH1 GSK3B","MMP3 TP53 CDH1 AKT1 STAT3 MMP7 MMP1 IL1B OCLN","CEACAM1 CDH1 PTP4A3 ITGB6 F11R","ESRP1 CDH1 OCLN MMP7 ERBB2 STAT3","IL11 STAT3 PTP4A3 TMPRSS4 AQP4","ERBB2 AKT1 CDH1 STAT3 TP53 HRAS GAPDH NOTCH1 SOX2 MMP7 ADAM17 SNAI1",
"MMP7 CDH1 AKT1 STAT3 TP53 ADAM17 MMP1 GAPDH","ADAM17 AKT1 ERBB2 NOTCH1 TP53 CDH1 STAT3 HRAS GAPDH","MMP1 TP53 AKT1 CDH1 STAT3 GAPDH OCLN IL1B","OCLN CDH1 AKT1 STAT3 TP53 LGALS3 FSCN1 KRT17","PTP4A3 AKT1 OCLN CX3CL1","LASP1 NCSTN L1CAM GAPDH AKT1","NCSTN NOTCH1 CDH1 AKT1 IL1B GAPDH ADAM17","VSNL1 PKP3 GJA5","LCN2 L1CAM KRT17 CA9 MMP1 AKT1 IL1B","IL1B TP53 AKT1 STAT3 GAPDH CDH1 S100A8 S100A9 LCN2 HSPA5 ANXA2","SPHK1 AKT1 STAT3 TP53 CDH1 GAPDH IL1B","PKP3 KRT17 GJB6","L1CAM AKT1 CDH1 KCNN4 CX3CL1 LCN2 STAT3 ERBB2",
"KRT17 TP53 AKT1 CDH1 STAT3 S100A8","CA9 CX3CL1 TP53 STAT3 AKT1 GAPDH","CDK5 AKT1 TP53 GAPDH CDH1 STAT3 HRAS","S100A8 S100A9 AKT1 STAT3 CDH1 ANXA2","CX3CL1 AKT1 FHOD1 STAT3 IL1B AQP4","SLC2A1 GAPDH TP53 AKT1 STAT3 HSPA5 ENO1 CDH1","ANXA2 AKT1 TP53 GAPDH CDH1 STAT3 S100A2 HSPA5 FSCN1","CSNK2B TP53 AKT1 GAPDH HDAC1 STAT3 SOX2","MMP11 GAPDH TP53 AKT1 CDH1 STAT3","FHOD1 FSCN1 RYR1","FSCN1 GAPDH AKT1 CDH1 TP53 STAT3 SLC2A1 ANXA2 HSPA5","JAG2 NOTCH1 CDH1 TP53 AKT1 HSPA5 S100A9","RYR1 KCNN4 CACNA1C AQP4",
"TP53BP2 TP53 AKT1 ANXA2","HSPA5 GAPDH TP53 AKT1 STAT3 CDH1 ENO1 TXN IL1B VCP","IGSF6 KCNK3","ISG15 GAPDH TP53 AKT1 STAT3 PRDX1 ENO1 HSPA5 ELAVL1","S100A9 S100A8 TP53 GAPDH AKT1 HSPA5","TXN GAPDH TP53 AKT1 PRDX1 ENO1 STAT3 NME1","PRDX1 GAPDH TP53 AKT1 ENO1 CFTR S100A2","S100A2 TP53 ANXA2 S100A8 IL1B","ENO1 GAPDH TP53 AKT1 STAT3 CFTR TRAP1 IRF6 EIF4G1","IRF6 CDH1 TP53","TRAP1 GAPDH TP53 AKT1 HSPA5 ENO1","BEST4 GABRA5 GABRG3 CLIC3 CLCN2 GABRP CLIC1 CFTR CACNG4 ANO1","CLCN2 GABRA5 CLIC3 CLIC1 CFTR ANO1 GABRG3",
"GABRA5 GABRG3 CLIC3 CLIC1 ANO1 GABRP","GABRG3 CLIC3 GABRP ANO1 CLIC1","CLIC3 GABRP ANO1 CLIC1 CFTR","GABRP ANO1 CLIC1 CFTR","CLIC1 ANO1 CFTR TXN ENO1 GAPDH","ANO1 CFTR CACNA1C PRDX1 AQP5","CFTR AKT1 TP53 GAPDH AQP5 CACNA1C HSPA5 AQP4","CACNG4 CACNA1B CACNA1C","CATSPERB KCNN4 CACNA1B KCNK5","ANO9 CACNA1C","KCNK5 HCN4 KCNN4","CACNA1B CACNA1C KCNN4 RYR1 AQP4","HCN4 HCN3 KCNN4 CACNA1C GJC1 GJB6","AQP5 AQP4 CACNA1C KCNN4 ISG15 CDH1","KCNN4 CACNA1C HCN3 KCNK3 AQP4 FSCN1 RYR1",
"HCN3 KCNK3 GJC1 CACNA1C GJA5","CACNA1C AQP4 TRPC4 RYR1 TRPC6 FSCN1 ANXA2","KCNK3 AQP4 KCNK2 TRPC6","GJC1 GJA5 GJB6 TRPC4 KCNK2","AQP4 TRPC4 TRPC6 CDH1 ANXA2 CX3CL1 GAPDH L1CAM","TRPC4 TRPC6 GJA5 TRPM2 CACNA1B","GJA5 GJB6 VSNL1","GJB6 F11R TRPC6","TRPC6 TRPM2 KCNK2 F11R","KCNK2 MCOLN2","MCOLN2 TRPM2","TRPM2 F11R CLK2",
"NOTCH1 AKT1 TP53 CDH1 HRAS STAT3 GAPDH SOX9 SOX2 STAT5B AXIN1","SOX9 TP53 AKT1 CDH1 HRAS STAT3 AXIN1 STAT5B","AXIN1 TP53 AKT1 CDH1 HRAS STAT3 FHL2 STAT5B","STAT5B AKT1 STAT3 TP53 HRAS ERBB2 CDH1 RAF1","HRAS AKT1 TP53 CDH1 STAT3 GAPDH","STAT3 AKT1 TP53 CDH1 GAPDH","GAPDH AKT1 TP53 CDH1","CDH1 AKT1 TP53","AKT1 TP53"
];
const captions = ["(i)", "(ii)"];

// size -> blue towards cyan
const ramp = [[40,[24,26,246]],[60,[48,58,232]],[75,[76,86,222]],[90,[122,130,206]],[108,[124,158,214]],[125,[118,174,220]],[150,[108,208,232]],[165,[104,226,242]],[185,[92,255,255]]];
function rampColor(d) {
  let i = 0;
  while (i < ramp.length - 2 && d > ramp[i + 1][0]) i++;
  let t = Math.min(1, Math.max(0, (d - ramp[i][0]) / (ramp[i + 1][0] - ramp[i][0])));
  let c = ramp[i][1].map((v, k) => Math.round(v + (ramp[i + 1][1][k] - v) * t));
  return `rgb(${c[0]},${c[1]},${c[2]})`;
}

function toBubbles(rows) {
  return rows.map(r => ({ x: r[1], y: r[2], r: r[3] / 2, label: r[0] }));
}

// every edge gets a bow point halfway, away from the middle of its network
function edgeLine(rows, lists) {
  let pos = {}, cx = 0, cy = 0;
  rows.forEach(r => { pos[r[0]] = r; cx += r[1]; cy += r[2]; });
  cx /= rows.length; cy /= rows.length;
  let pts = [];
  lists.forEach(line => {
    let w = line.split(" ");
    let a = pos[w[0]];
    for (let j = 1; j < w.length; j++) {
      let b = pos[w[j]];
      if (!a || !b) continue;
      let mx = (a[1] + b[1]) / 2, my = (a[2] + b[2]) / 2;
      let nx = -(b[2] - a[2]) * 0.11, ny = (b[1] - a[1]) * 0.11;
      if ((mx - cx) * nx + (my - cy) * ny < 0) { nx = -nx; ny = -ny; }
      pts.push({ x: a[1], y: a[2] }, { x: mx + nx, y: my + ny }, { x: b[1], y: b[2] }, { x: NaN, y: NaN });
    }
  });
  return pts;
}

function edgeSet(data, color, width) {
  return { type: "scatter", data: data, showLine: true, spanGaps: false, tension: 0.45, borderColor: color, borderWidth: width, pointRadius: 0, order: 5, clip: false };
}
function nodeSet(rows, color) {
  return {
    data: toBubbles(rows), order: 1, clip: false, borderColor: "#2e2e2e", borderWidth: 1.3,
    backgroundColor: color || (ctx => rampColor(ctx.raw ? ctx.raw.r * 2 : 40))
  };
}

const labelPlugin = {
  id: "labels",
  afterDatasetsDraw(chart) {
    const c = chart.ctx, sx = chart.scales.x, sy = chart.scales.y;
    c.save();
    c.textAlign = "center";
    c.textBaseline = "middle";
    c.fillStyle = "#0c0c14";
    chart.data.datasets.forEach(ds => {
      if (ds.type === "scatter") return;
      ds.data.forEach(n => {
        c.font = `bold ${Math.max(10.5, n.r * 2 * 0.285).toFixed(1)}px "Liberation Sans", Arial, sans-serif`;
        c.fillText(n.label, sx.getPixelForValue(n.x), sy.getPixelForValue(n.y));
      });
    });
    c.font = 'bold 64px "Liberation Sans", Arial, sans-serif';
    c.fillStyle = "#111";
    c.fillText(captions[0], sx.getPixelForValue(1213), sy.getPixelForValue(2618));
    c.fillText(captions[1], sx.getPixelForValue(3755), sy.getPixelForValue(2558));
    c.restore();
  }
};

new Chart(document.getElementById("net"), {
  type: "bubble",
  data: {
    datasets: [
      nodeSet(channelsLeft, "#fff200"),
      nodeSet(darkLeft, "#2a3590"),
      nodeSet(othersLeft),
      nodeSet(channelsRight, "#fff200"),
      nodeSet(othersRight),
      edgeSet(edgeLine(channelsLeft.concat(darkLeft, othersLeft), edgesLeft), "#dcdcdc", 1.5),
      edgeSet(edgeLine(channelsRight.concat(othersRight), edgesRight), "#d0d0d0", 2.2)
    ]
  },
  options: {
    responsive: false,
    animation: false,
    devicePixelRatio: 1,
    events: [],
    layout: { padding: 0, autoPadding: false },
    plugins: { legend: { display: false }, tooltip: { enabled: false } },
    scales: {
      x: { type: "linear", min: 0, max: 4823, display: false },
      y: { type: "linear", min: 0, max: 2658, reverse: true, display: false }
    }
  },
  plugins: [labelPlugin]
});
</script>
</body>
</html>
